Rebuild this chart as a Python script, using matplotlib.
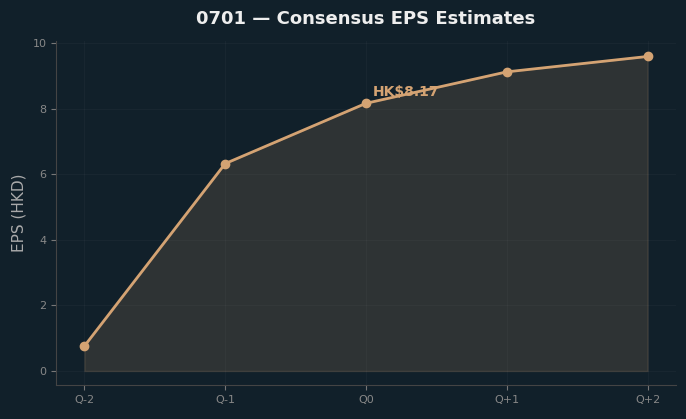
import matplotlib
matplotlib.use("Agg")
import matplotlib.pyplot as plt

quarters = ["Q-2", "Q-1", "Q0", "Q+1", "Q+2"]
eps = [0.76, 6.33, 8.17, 9.13, 9.60]
label_idx = 2

bg = "#11202a"
accent = "#d4a373"

fig, ax = plt.subplots(figsize=(6.86, 4.19), dpi=100)
fig.patch.set_facecolor(bg)
ax.set_facecolor(bg)
ax.set_axisbelow(True)

x = list(range(len(quarters)))
ax.fill_between(x, eps, 0, color=accent, alpha=0.15, linewidth=1, zorder=2)
ax.plot(x, eps, color=accent, linewidth=2, marker="o", markersize=6, zorder=3)

ax.annotate(f"HK${eps[label_idx]:.2f}", (x[label_idx], eps[label_idx]),
            xytext=(5, 5), textcoords="offset points",
            color=accent, fontsize=10, fontweight="bold")

ax.set_xticks(x)
ax.set_xticklabels(quarters)
ax.set_ylim(-0.43, 10.07)
ax.set_title("0701 — Consensus EPS Estimates", color="#eeeeee",
             fontsize=13, fontweight="bold", pad=12)
ax.set_ylabel("EPS (HKD)", color="#aaaaaa", fontsize=11)

ax.tick_params(colors="#777777", labelcolor="#888888", labelsize=8)
ax.grid(True, color="#ffffff", alpha=0.03, linewidth=0.8)
for side in ["top", "right"]:
    ax.spines[side].set_visible(False)
for side in ["left", "bottom"]:
    ax.spines[side].set_color("#444444")

fig.subplots_adjust(left=0.082, right=0.985, top=0.902, bottom=0.081)
fig.savefig("out.png", facecolor=bg)
